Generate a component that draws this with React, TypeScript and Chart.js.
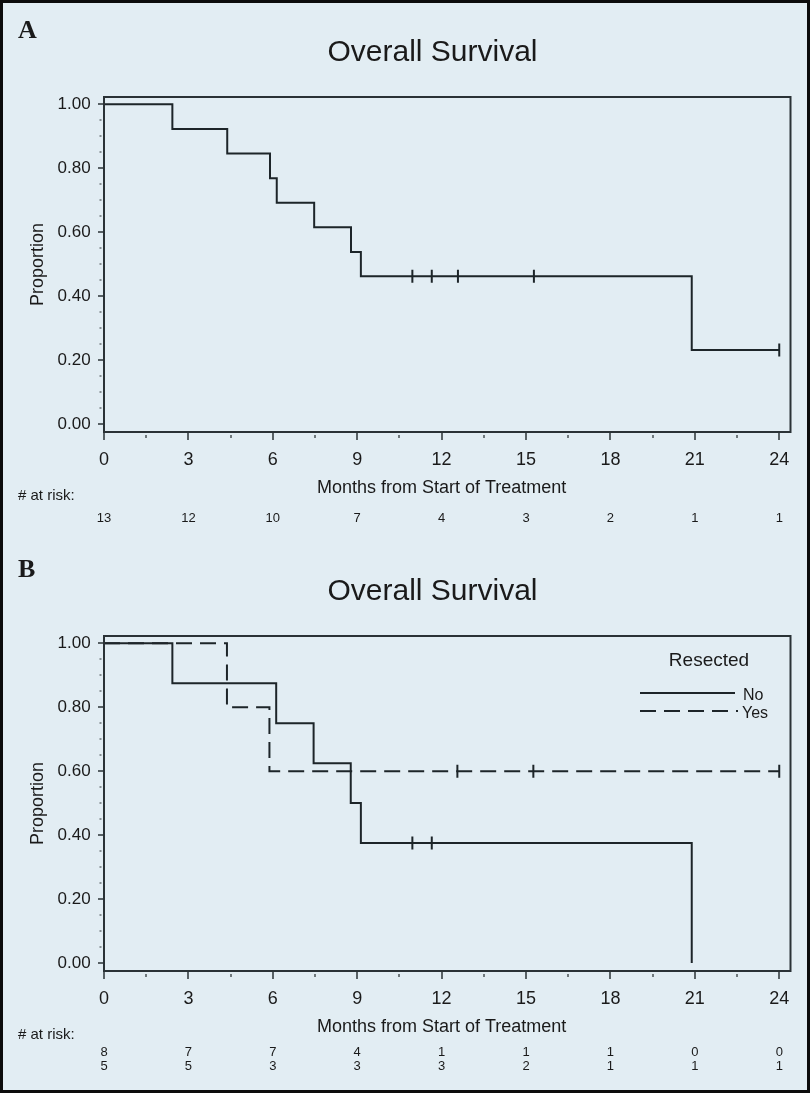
import React, { useEffect, useRef } from 'react';
import { Chart, registerables } from 'chart.js';

Chart.register(...registerables);

// ---------- axis / text data ----------
const X_TICKS = [0, 3, 6, 9, 12, 15, 18, 21, 24];
const X_TICK_LABELS = ['0', '3', '6', '9', '12', '15', '18', '21', '24'];
const Y_TICKS = [0, 0.2, 0.4, 0.6, 0.8, 1.0];
const Y_TICK_LABELS = ['0.00', '0.20', '0.40', '0.60', '0.80', '1.00'];
const X_MINOR_STEP = 1.5;
const Y_MINOR_STEP = 0.05;

const TITLE = 'Overall Survival';
const X_TITLE = 'Months from Start of Treatment';
const Y_TITLE = 'Proportion';
const RISK_LABEL = '# at risk:';

// ---------- Panel A: all patients ----------
const A_TIMES = [0, 2.43, 4.38, 5.9, 6.14, 7.47, 8.78, 9.13, 20.89, 24.0];
const A_SURV = [1.0, 0.923, 0.846, 0.769, 0.692, 0.615, 0.538, 0.462, 0.231, 0.231];
const A_CENSOR_TIMES = [10.96, 11.65, 12.58, 15.28, 24.0];
const A_AT_RISK = [13, 12, 10, 7, 4, 3, 2, 1, 1];

// ---------- Panel B: by resection ----------
const LEGEND_TITLE = 'Resected';
const GROUP_NAMES = ['No', 'Yes'];
const NO_TIMES = [0, 2.43, 6.12, 7.45, 8.77, 9.13, 20.89];
const NO_SURV = [1.0, 0.875, 0.75, 0.625, 0.5, 0.375, 0.0];
const NO_CENSOR_TIMES = [10.96, 11.65];
const YES_TIMES = [0, 4.37, 5.88, 24.0];
const YES_SURV = [1.0, 0.8, 0.6, 0.6];
const YES_CENSOR_TIMES = [12.56, 15.26, 24.0];
const NO_AT_RISK = [8, 7, 7, 4, 1, 1, 1, 0, 0];
const YES_AT_RISK = [5, 5, 3, 3, 3, 2, 1, 1, 1];

// ---------- styles ----------
const BG = '#e2edf3';
const LINE = '#1d2529';
const FRAME = '#2a3236';
const TEXT = '#1a1a1a';
const SANS = '"Liberation Sans", Arial, sans-serif';
const SERIF = '"Liberation Serif", "Times New Roman", serif';

function survAt(times: number[], surv: number[], t: number) {
  let v = surv[0];
  for (let i = 0; i < times.length; i++) if (times[i] <= t) v = surv[i];
  return v;
}

function curveDataset(times: number[], surv: number[], dash: number[]) {
  return {
    data: times.map((t, i) => ({ x: t, y: surv[i] })),
    showLine: true,
    stepped: 'before',
    borderColor: LINE,
    borderWidth: 2,
    borderDash: dash,
    borderCapStyle: 'butt',
    borderJoinStyle: 'miter',
    pointRadius: 0,
    fill: false,
  };
}

function censorDataset(times: number[], surv: number[], ct: number[]) {
  return {
    data: ct.map((t) => ({ x: t, y: survAt(times, surv, t) })),
    showLine: false,
    pointStyle: 'line',
    pointRotation: 90,
    pointRadius: 6.5,
    pointBorderWidth: 2,
    pointBorderColor: LINE,
    pointBackgroundColor: LINE,
  };
}

type PanelCfg = {
  letter: string;
  riskRows: number[][];
  riskY: number[];
  legend: boolean;
};

function makePlugin(cfg: PanelCfg) {
  return {
    id: 'kmPanel' + cfg.letter,
    afterDraw(chart: any) {
      const { ctx, chartArea: ca } = chart;
      const xs = chart.scales.x;
      const ys = chart.scales.y;
      const line = (x1: number, y1: number, x2: number, y2: number) => {
        ctx.beginPath();
        ctx.moveTo(x1, y1);
        ctx.lineTo(x2, y2);
        ctx.stroke();
      };
      ctx.save();
      // frame
      ctx.strokeStyle = FRAME;
      ctx.lineWidth = 2;
      ctx.strokeRect(ca.left, ca.top, ca.right - ca.left, ca.bottom - ca.top);
      // y ticks
      ctx.lineWidth = 1.5;
      Y_TICKS.forEach((v) => {
        const p = Math.round(ys.getPixelForValue(v));
        line(ca.left - 6, p, ca.left, p);
      });
      ctx.strokeStyle = '#6a7276';
      ctx.lineWidth = 1.5;
      const nY = Math.round(1 / Y_MINOR_STEP);
      for (let k = 1; k < nY; k++) {
        if (k % 4 === 0) continue;
        const p = Math.round(ys.getPixelForValue(k * Y_MINOR_STEP));
        line(ca.left - 4.5, p, ca.left - 2.5, p);
      }
      // x ticks
      ctx.strokeStyle = FRAME;
      X_TICKS.forEach((v) => {
        const p = Math.round(xs.getPixelForValue(v));
        line(p, ca.bottom, p, ca.bottom + 8);
      });
      ctx.strokeStyle = '#4a5256';
      for (let v = X_MINOR_STEP; v < 24; v += 3) {
        const p = Math.round(xs.getPixelForValue(v));
        line(p, ca.bottom + 3, p, ca.bottom + 6);
      }
      // texts
      ctx.fillStyle = TEXT;
      ctx.font = 'bold 26px ' + SERIF;
      ctx.textAlign = 'left';
      ctx.textBaseline = 'alphabetic';
      ctx.fillText(cfg.letter, 18, 38);

      ctx.font = '30px ' + SANS;
      ctx.textAlign = 'center';
      ctx.fillText(TITLE, 432.5, 61);

      const x0 = xs.getPixelForValue(X_TICKS[0]);
      const x1 = xs.getPixelForValue(X_TICKS[X_TICKS.length - 1]);
      ctx.font = '18px ' + SANS;
      ctx.fillText(X_TITLE, (x0 + x1) / 2, ca.bottom + 61);

      ctx.save();
      ctx.translate(38, (ca.top + ca.bottom) / 2);
      ctx.rotate(-Math.PI / 2);
      ctx.textBaseline = 'middle';
      ctx.fillText(Y_TITLE, 0, 0);
      ctx.restore();

      ctx.font = '15px ' + SANS;
      ctx.textAlign = 'left';
      ctx.textBaseline = 'middle';
      ctx.fillText(RISK_LABEL, 18, ca.bottom + 64);

      ctx.font = '13px ' + SANS;
      ctx.textAlign = 'center';
      cfg.riskRows.forEach((row, r) => {
        row.forEach((n, i) => {
          ctx.fillText(String(n), xs.getPixelForValue(X_TICKS[i]), ca.bottom + cfg.riskY[r]);
        });
      });

      if (cfg.legend) {
        ctx.font = '19px ' + SANS;
        ctx.textAlign = 'center';
        ctx.textBaseline = 'alphabetic';
        ctx.fillText(LEGEND_TITLE, 709, 127);
        ctx.strokeStyle = LINE;
        ctx.lineWidth = 2;
        ctx.lineCap = 'butt';
        line(640, 154, 735, 154);
        ctx.setLineDash([16, 8]);
        line(640, 172, 738, 172);
        ctx.setLineDash([]);
        ctx.font = '16px ' + SANS;
        ctx.textAlign = 'left';
        ctx.fillText(GROUP_NAMES[0], 743, 161);
        ctx.fillText(GROUP_NAMES[1], 742, 179);
      }
      ctx.restore();
    },
  };
}

function buildConfig(datasets: any[], xHeight: number, cfg: PanelCfg) {
  return {
    type: 'scatter',
    data: { datasets },
    options: {
      animation: false,
      responsive: false,
      events: [],
      layout: { padding: { left: 0, top: 97, right: 19.5, bottom: 0 } },
      plugins: {
        legend: { display: false },
        tooltip: { enabled: false },
        title: { display: false },
      },
      scales: {
        x: {
          type: 'linear',
          min: 0,
          max: 24.4,
          afterBuildTicks: (s: any) => {
            s.ticks = X_TICKS.map((v) => ({ value: v }));
          },
          afterFit: (s: any) => {
            s.height = xHeight;
          },
          grid: { display: false, drawTicks: false },
          border: { display: false },
          ticks: {
            autoSkip: false,
            maxRotation: 0,
            padding: 17,
            color: TEXT,
            font: { family: SANS, size: 18 },
            callback: (_v: any, i: number) => X_TICK_LABELS[i],
          },
        },
        y: {
          type: 'linear',
          min: -0.0254,
          max: 1.023,
          afterBuildTicks: (s: any) => {
            s.ticks = Y_TICKS.map((v) => ({ value: v }));
          },
          afterFit: (s: any) => {
            s.width = 104;
          },
          grid: { display: false, drawTicks: false },
          border: { display: false },
          ticks: {
            autoSkip: false,
            padding: 13.3,
            color: TEXT,
            font: { family: SANS, size: 17 },
            callback: (_v: any, i: number) => Y_TICK_LABELS[i],
          },
        },
      },
    },
    plugins: [makePlugin(cfg)],
  };
}

function Panel(props: { top: number; height: number; which: 'A' | 'B' }) {
  const ref = useRef<HTMLCanvasElement | null>(null);
  useEffect(() => {
    if (!ref.current) return;
    const xHeight = props.height - 432;
    let chart: any;
    if (props.which === 'A') {
      const datasets = [
        curveDataset(A_TIMES, A_SURV, []),
        censorDataset(A_TIMES, A_SURV, A_CENSOR_TIMES),
      ];
      chart = new Chart(
        ref.current,
        buildConfig(datasets, xHeight, { letter: 'A', riskRows: [A_AT_RISK], riskY: [86], legend: false }) as any
      );
    } else {
      const datasets = [
        curveDataset(NO_TIMES, NO_SURV, []),
        censorDataset(NO_TIMES, NO_SURV, NO_CENSOR_TIMES),
        curveDataset(YES_TIMES, YES_SURV, [16, 8]),
        censorDataset(YES_TIMES, YES_SURV, YES_CENSOR_TIMES),
      ];
      chart = new Chart(
        ref.current,
        buildConfig(datasets, xHeight, {
          letter: 'B',
          riskRows: [NO_AT_RISK, YES_AT_RISK],
          riskY: [81, 95],
          legend: true,
        }) as any
      );
    }
    return () => chart.destroy();
  }, [props.which, props.height]);
  return (
    <canvas
      ref={ref}
      width={810}
      height={props.height}
      style={{ position: 'absolute', left: 0, top: props.top, width: 810, height: props.height }}
    />
  );
}

export default function App() {
  useEffect(() => {
    document.body.style.margin = '0';
  }, []);
  return (
    <div
      style={{
        position: 'absolute',
        left: 0,
        top: 0,
        width: 810,
        height: 1093,
        background: BG,
        overflow: 'hidden',
      }}
    >
      <Panel which="A" top={0} height={540} />
      <Panel which="B" top={539} height={554} />
      <div
        style={{
          position: 'absolute',
          left: 0,
          top: 0,
          width: 810,
          height: 1093,
          border: '3px solid #0c0c0c',
          boxSizing: 'border-box',
          pointerEvents: 'none',
        }}
      />
    </div>
  );
}
